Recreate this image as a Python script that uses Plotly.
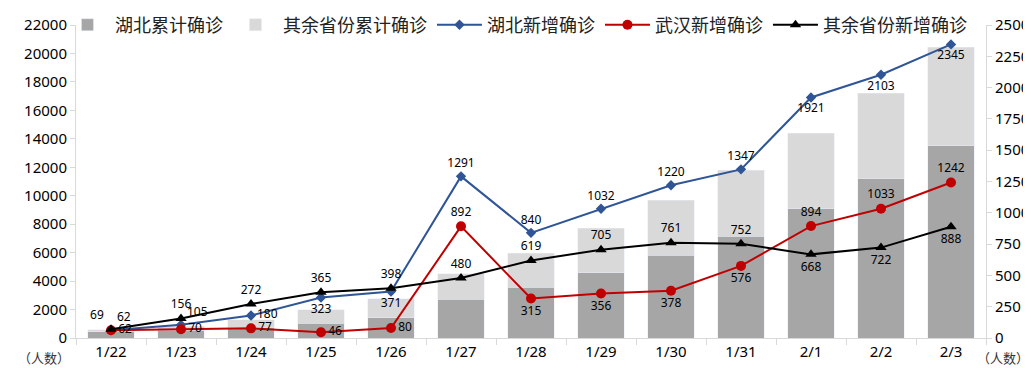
import plotly.graph_objects as go

dates = ["1/22", "1/23", "1/24", "1/25", "1/26", "1/27", "1/28", "1/29", "1/30", "1/31", "2/1", "2/2", "2/3"]
hubei_cum = [444, 549, 729, 1052, 1423, 2714, 3554, 4586, 5806, 7153, 9074, 11177, 13522]
other_cum = [127, 281, 558, 923, 1321, 1801, 2420, 3125, 3886, 4638, 5306, 6028, 6916]
hubei_new = [62, 105, 180, 323, 371, 1291, 840, 1032, 1220, 1347, 1921, 2103, 2345]
wuhan_new = [62, 70, 77, 46, 80, 892, 315, 356, 378, 576, 894, 1033, 1242]
other_new = [69, 156, 272, 365, 398, 480, 619, 705, 761, 752, 668, 722, 888]

hubei_pos = ["top right", "top right", "middle right", "bottom center", "bottom center",
             "top center", "top center", "top center", "top center", "top center",
             "bottom center", "bottom center", "bottom center"]
wuhan_pos = ["middle right", "middle right", "middle right", "middle right", "middle right",
             "top center", "bottom center", "bottom center", "bottom center", "bottom center",
             "top center", "top center", "top center"]
other_pos = ["top left"] + ["top center"] * 9 + ["bottom center"] * 3

NUM = "Noto Sans"
CJK = "Noto Sans CJK SC"
LBL = 12

fig = go.Figure()
fig.add_trace(go.Bar(x=dates, y=hubei_cum, name="湖北累计确诊", marker_color="#A6A6A6",
                     width=0.67, yaxis="y"))
fig.add_trace(go.Bar(x=dates, y=other_cum, name="其余省份累计确诊", marker_color="#D9D9D9",
                     width=0.67, yaxis="y"))
fig.add_trace(go.Scatter(x=dates, y=hubei_new, name="湖北新增确诊", mode="lines+markers+text",
                         line=dict(color="#2F5597", width=2),
                         marker=dict(symbol="diamond", size=8, color="#2F5597"),
                         text=[str(v) for v in hubei_new], textposition=hubei_pos,
                         textfont=dict(family=NUM, size=LBL, color="#000"), yaxis="y2",
                         cliponaxis=False))
fig.add_trace(go.Scatter(x=dates, y=wuhan_new, name="武汉新增确诊", mode="lines+markers+text",
                         line=dict(color="#C00000", width=2),
                         marker=dict(symbol="circle", size=10, color="#C00000"),
                         text=[str(v) for v in wuhan_new], textposition=wuhan_pos,
                         textfont=dict(family=NUM, size=LBL, color="#000"), yaxis="y2",
                         cliponaxis=False))
fig.add_trace(go.Scatter(x=dates, y=other_new, name="其余省份新增确诊", mode="lines+markers+text",
                         line=dict(color="#000000", width=2),
                         marker=dict(symbol="triangle-up", size=10, color="#000000"),
                         text=[str(v) for v in other_new], textposition=other_pos,
                         textfont=dict(family=NUM, size=LBL, color="#000"), yaxis="y2",
                         cliponaxis=False))

fig.update_layout(
    width=1031, height=368,
    margin=dict(l=68, r=53, t=17, b=38, autoexpand=False),
    barmode="stack",
    plot_bgcolor="white", paper_bgcolor="white",
    font=dict(family=NUM, size=15, color="#000"),
    showlegend=True,
    legend=dict(orientation="h", xref="container", x=0.0504, xanchor="left",
                y=1.0, yanchor="middle",
                font=dict(family=CJK, size=18, color="#222"),
                bgcolor="rgba(255,255,255,0)", itemwidth=45, traceorder="normal"),
    xaxis=dict(type="category", showline=True, linecolor="#D9D9D9", linewidth=1,
               ticks="outside", tickson="boundaries", ticklen=6, tickcolor="#D9D9D9",
               showgrid=False, tickfont=dict(family=NUM, size=15, color="#000"),
               range=[-0.5, 12.5]),
    yaxis=dict(range=[0, 22000], dtick=2000, tickformat="d", showline=True, linecolor="#D9D9D9",
               ticks="outside", ticklen=5, tickcolor="#D9D9D9", showgrid=False,
               zeroline=False, tickfont=dict(family=NUM, size=15, color="#000")),
    yaxis2=dict(range=[0, 2500], dtick=250, tickformat="d", overlaying="y", side="right",
                showline=True, linecolor="#D9D9D9", ticks="outside", ticklen=5,
                tickcolor="#D9D9D9", showgrid=False, zeroline=False,
                tickfont=dict(family=NUM, size=15, color="#000")),
)

fig.add_annotation(text="（人数）", xref="paper", yref="paper", x=-0.035, y=-0.061,
                   xanchor="center", yanchor="middle", showarrow=False,
                   font=dict(family=CJK, size=13, color="#333"))
fig.add_annotation(text="（人数）", xref="paper", yref="paper", x=1.0187, y=-0.061,
                   xanchor="center", yanchor="middle", showarrow=False,
                   font=dict(family=CJK, size=13, color="#333"))

fig.write_html("out.html")
